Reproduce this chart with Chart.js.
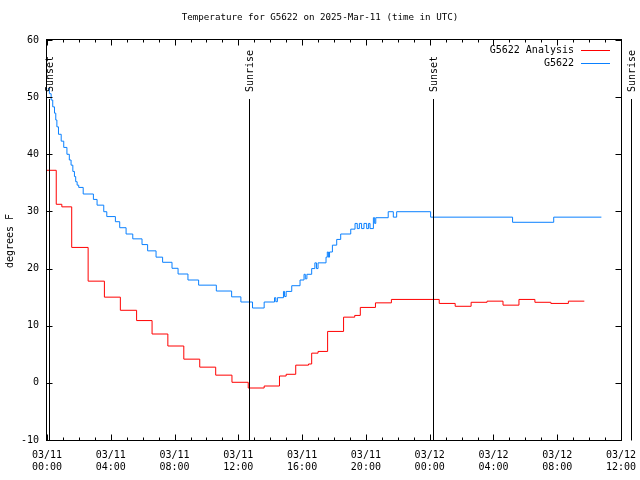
<!DOCTYPE html>
<html>
<head>
<meta charset="utf-8">
<title>Temperature for G5622</title>
<script src="https://cdn.jsdelivr.net/npm/chart.js@4.4.1/dist/chart.umd.min.js"></script>
<style>
  html, body { margin: 0; padding: 0; background: #fff; }
  #chart { display: block; }
</style>
</head>
<body>
<canvas id="chart" width="640" height="480"></canvas>
<script>
// times are hours since 03/11 00:00 UTC
const obsHours = [0.05, 0.15, 0.26, 0.36, 0.47, 0.55, 0.62, 0.72, 0.89, 1.05, 1.25, 1.40, 1.51, 1.62, 1.72, 1.80, 1.89, 1.99,
  2.27, 2.91, 3.14, 3.56, 3.75, 4.29, 4.56, 4.96, 5.38, 5.96, 6.31, 6.84, 7.25, 7.84, 8.22, 8.84, 9.51, 10.62, 11.58,
  12.16, 12.89, 13.62, 14.27, 14.35, 14.45, 14.83, 14.90, 15.00, 15.35, 15.87, 16.12, 16.20, 16.30, 16.60, 16.80, 16.90,
  17.00, 17.50, 17.58, 17.65, 17.72, 17.90, 18.17, 18.42, 19.05, 19.32, 19.46, 19.59, 19.73, 19.88, 20.05, 20.17, 20.26,
  20.47, 20.55, 20.62, 21.40, 21.72, 21.93, 24.06, 29.20, 31.78, 34.77];
const obsTemps = [51.5, 50.6, 49.5, 48.3, 47.2, 46.0, 44.8, 43.5, 42.3, 41.2, 40.0, 39.0, 38.1, 37.0, 36.1, 35.2, 34.6, 34.2,
  33.05, 32.1, 31.1, 29.95, 29.1, 28.2, 27.15, 26.05, 25.2, 24.2, 23.1, 22.0, 21.1, 20.05, 19.05, 18.0, 17.1, 16.07, 15.05,
  14.15, 13.1, 14.15, 14.9, 14.2, 14.9, 16.0, 15.1, 16.0, 17.0, 18.0, 19.0, 18.2, 19.0, 20.0, 21.0, 20.0,
  21.0, 22.0, 22.9, 22.0, 22.9, 24.1, 25.1, 26.05, 26.9, 27.9, 27.0, 27.9, 27.0, 27.9, 27.0, 27.9, 27.0,
  28.9, 27.9, 28.9, 29.95, 29.0, 29.95, 29.0, 28.1, 29.0, 29.0];

const anaHours = [0, 0.58, 0.93, 1.55, 2.58, 3.60, 4.60, 5.62, 6.59, 7.58, 8.58, 9.58, 10.58, 11.60, 12.62, 13.62, 14.58,
  15.00, 15.60, 16.40, 16.60, 17.00, 17.60, 18.60, 19.30, 19.65, 20.60, 21.60, 24.60, 25.60, 26.60, 27.60, 28.60, 29.60,
  30.60, 31.60, 32.70, 33.70];
const anaTemps = [37.2, 31.25, 30.8, 23.7, 17.8, 15.0, 12.7, 10.9, 8.55, 6.45, 4.15, 2.75, 1.35, 0.1, -0.9, -0.55, 1.2,
  1.5, 3.1, 3.3, 5.2, 5.5, 9.0, 11.5, 11.8, 13.2, 14.0, 14.6, 13.9, 13.4, 14.1, 14.3, 13.6, 14.6,
  14.1, 13.9, 14.3, 14.3];

const sunHours = [0.1, 12.64, 24.2, 36.65];
const sunLabels = ['Sunset', 'Sunrise', 'Sunset', 'Sunrise'];

const xTickLabels = [['03/11', '00:00'], ['03/11', '04:00'], ['03/11', '08:00'], ['03/11', '12:00'], ['03/11', '16:00'],
  ['03/11', '20:00'], ['03/12', '00:00'], ['03/12', '04:00'], ['03/12', '08:00'], ['03/12', '12:00']];

const FONT = '"DejaVu Sans Mono", "Liberation Mono", monospace';
const RED = '#ff0000';
const BLUE = '#0a80ff';

// Border, inward ticks, sun lines, title and legend in gnuplot style
const gnuplotDecor = {
  id: 'gnuplotDecor',
  afterDraw(chart) {
    const { ctx, chartArea: a, scales: { x, y } } = chart;
    const L = a.left - 0.5, R = a.right + 0.5, T = a.top - 0.5, B = a.bottom + 0.5;
    ctx.save();
    ctx.strokeStyle = '#000';
    ctx.lineWidth = 1;

    function line(x1, y1, x2, y2) {
      ctx.beginPath();
      ctx.moveTo(x1, y1);
      ctx.lineTo(x2, y2);
      ctx.stroke();
    }

    ctx.strokeRect(L, T, R - L, B - T);

    // hourly ticks, longer every 4 hours
    for (let h = 0; h <= 36; h++) {
      const px = Math.round(x.getPixelForValue(h)) + 0.5;
      const len = h % 4 === 0 ? 6 : 3;
      line(px, B, px, B - len);
      line(px, T, px, T + len);
    }
    for (let v = -10; v <= 60; v += 10) {
      const py = Math.round(y.getPixelForValue(v)) + 0.5;
      line(L, py, L + 6, py);
      line(R, py, R - 6, py);
    }

    // sunrise / sunset markers
    ctx.font = '10px ' + FONT;
    ctx.fillStyle = '#000';
    sunHours.forEach((h, i) => {
      const px = Math.round(x.getPixelForValue(h)) + 0.5;
      line(px, 99, px, B);
      ctx.save();
      ctx.translate(px + 1, 92);
      ctx.rotate(-Math.PI / 2);
      ctx.textAlign = 'left';
      ctx.textBaseline = 'middle';
      ctx.fillText(sunLabels[i], 0, 0);
      ctx.restore();
    });

    // title
    ctx.font = '9.2px ' + FONT;
    ctx.textAlign = 'center';
    ctx.textBaseline = 'middle';
    ctx.fillText('Temperature for G5622 on 2025-Mar-11 (time in UTC)', 320, 18);

    // y axis label
    ctx.font = '10px ' + FONT;
    ctx.save();
    ctx.translate(10, 241);
    ctx.rotate(-Math.PI / 2);
    ctx.fillText('degrees F', 0, 0);
    ctx.restore();

    // legend
    ctx.textAlign = 'right';
    ctx.fillText('G5622 Analysis', 574, 50);
    ctx.fillText('G5622', 574, 63);
    ctx.strokeStyle = RED;
    line(581, 50.5, 610, 50.5);
    ctx.strokeStyle = BLUE;
    line(581, 63.5, 610, 63.5);
    ctx.restore();
  }
};

const ctx = document.getElementById('chart').getContext('2d');
const tempChart = new Chart(ctx, {
  type: 'line',
  data: {
    datasets: [
      {
        label: 'G5622 Analysis',
        data: anaHours.map((h, i) => ({ x: h, y: anaTemps[i] })),
        borderColor: RED,
        borderWidth: 1,
        pointRadius: 0,
        stepped: 'before',
        fill: false
      },
      {
        label: 'G5622',
        data: obsHours.map((h, i) => ({ x: h, y: obsTemps[i] })),
        borderColor: BLUE,
        borderWidth: 1,
        pointRadius: 0,
        stepped: 'before',
        fill: false
      }
    ]
  },
  options: {
    responsive: false,
    animation: false,
    devicePixelRatio: 1,
    layout: { padding: { left: 0, right: 19, top: 40, bottom: 0 } },
    plugins: {
      legend: { display: false },
      title: { display: false },
      tooltip: { enabled: false }
    },
    scales: {
      x: {
        type: 'linear',
        min: 0,
        max: 36,
        afterFit: s => {
          s.height = 40;
          s.paddingLeft = 0;
          s.paddingRight = 0;
        },
        afterBuildTicks: s => { s.ticks = xTickLabels.map((_, i) => ({ value: i * 4 })); },
        grid: { display: false, drawTicks: false },
        border: { display: false },
        ticks: {
          autoSkip: false,
          maxRotation: 0,
          padding: 9,
          color: '#000',
          font: { family: FONT, size: 10, lineHeight: 1.2 },
          callback: v => xTickLabels[Math.round(v / 4)]
        }
      },
      y: {
        min: -10,
        max: 60,
        afterFit: s => {
          s.width = 47;
          s.paddingTop = 0;
          s.paddingBottom = 0;
        },
        grid: { display: false, drawTicks: false },
        border: { display: false },
        ticks: {
          stepSize: 10,
          padding: 8,
          color: '#000',
          font: { family: FONT, size: 10 }
        }
      }
    }
  },
  plugins: [gnuplotDecor]
});
</script>
</body>
</html>
